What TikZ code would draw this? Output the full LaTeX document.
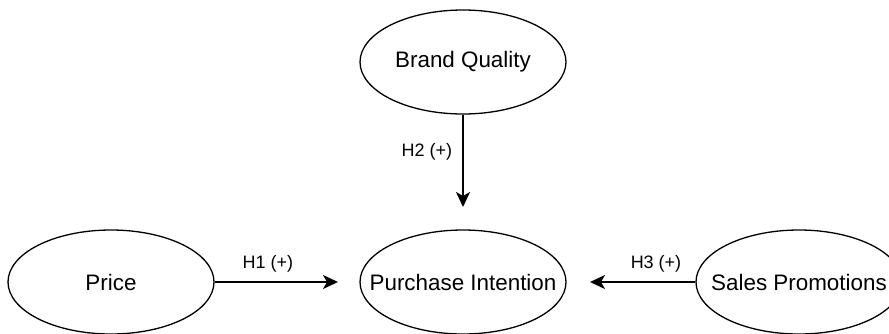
\documentclass[tikz,border=0pt]{standalone}
\usepackage{fontspec}
\setmainfont{Liberation Sans}
\usetikzlibrary{shapes.geometric,arrows.meta}
\newcommand{\fixedlabel}[1]{\makebox[0pt]{#1}}
\begin{document}
\begin{tikzpicture}[x=1pt,y=-1pt,
  construct/.style={ellipse,draw,line width=1.3pt,minimum width=206pt,minimum height=104pt,
    inner sep=0pt,font=\fontsize{22.4}{26}\selectfont},
  path/.style={line width=1.6pt,-{Stealth[length=15pt,width=14pt,inset=4pt]}},
  hyp/.style={font=\fontsize{18}{22}\selectfont,inner sep=0pt}]
\useasboundingbox (0,0) rectangle (889,333);
\node[construct] (bq) at (463,62) {\fixedlabel{Brand Quality}};
\node[construct] (pi) at (463,282) {\fixedlabel{Purchase Intention}};
\node[construct] (pr) at (111,282) {\fixedlabel{Price}};
\node[construct] (sp) at (799,282) {\fixedlabel{Sales Promotions}};
\coordinate (h2end) at (463,207);
\coordinate (h1end) at (338,282);
\coordinate (h3end) at (590,282);
\draw[path] (bq) -- (h2end);
\draw[path] (pr) -- (h1end);
\draw[path] (sp) -- (h3end);
\node[hyp] at (427,152) {H2 (+)};
\node[hyp] at (268,264) {H1 (+)};
\node[hyp] at (656,264) {H3 (+)};
\end{tikzpicture}
\end{document}
